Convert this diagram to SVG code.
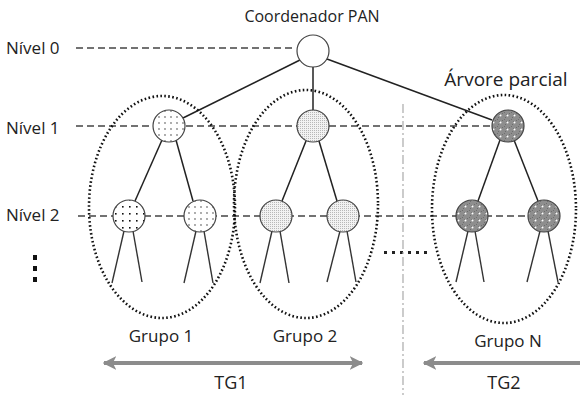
<svg xmlns="http://www.w3.org/2000/svg" width="580" height="395" viewBox="0 0 580 395">
  <style>
    .lbl { font-family: "Open Sans", "Liberation Sans", sans-serif; font-size: 15px; fill: #222; }
    .top { font-size: 16px; }
    .lvl-t { font-size: 17px; }
    .big { font-size: 18px; }
    .title2 { font-size: 19px; }
    .lvl { fill: none; stroke: #444; stroke-width: 1.4; stroke-dasharray: 7 4; }
    .edge { stroke: #222; stroke-width: 1.5; fill: none; }
    .leaf { stroke: #333; stroke-width: 1.4; fill: none; }
    .grp { fill: none; stroke: #111; stroke-width: 2.6; stroke-dasharray: 1.6 2.4; }
    .node { stroke: #444; stroke-width: 1.2; }
    .span { stroke: #8c8c8c; stroke-width: 4; fill: none; }
  </style>
  <defs>
    <!-- light grey dots on white -->
    <pattern id="pLight" width="6" height="6" patternUnits="userSpaceOnUse">
      <rect width="6" height="6" fill="#fff"/>
      <circle cx="3" cy="3" r="0.9" fill="#888"/>
    </pattern>
    <!-- black dots on white -->
    <pattern id="pBlack" width="7" height="7" patternUnits="userSpaceOnUse">
      <rect width="7" height="7" fill="#fff"/>
      <rect x="3" y="3" width="1.6" height="1.6" fill="#111"/>
    </pattern>
    <!-- fine grey stipple -->
    <pattern id="pStipple" width="2" height="2" patternUnits="userSpaceOnUse">
      <rect width="2" height="2" fill="#f2f2f2"/>
      <rect width="1" height="1" fill="#b8b8b8"/>
    </pattern>
    <!-- dark grey with white dots -->
    <pattern id="pDark" width="7" height="7" patternUnits="userSpaceOnUse">
      <rect width="7" height="7" fill="#8e8e8e"/>
      <rect x="0" y="0" width="1" height="1" fill="#6e6e6e"/>
      <rect x="2" y="2" width="1" height="1" fill="#6e6e6e"/>
      <rect x="5" y="1" width="1" height="1" fill="#6e6e6e"/>
      <rect x="1" y="5" width="1" height="1" fill="#6e6e6e"/>
      <circle cx="3.5" cy="3.5" r="1" fill="#fff"/>
    </pattern>
    <marker id="arrow" viewBox="0 0 10 10" refX="9" refY="5" markerWidth="3.4" markerHeight="3.4" orient="auto-start-reverse" markerUnits="strokeWidth">
      <path d="M0,0 L10,5 L0,10 L2.5,5 Z" fill="#8c8c8c"/>
    </marker>
  </defs>

  <!-- level labels -->
  <text class="lbl lvl-t" x="6" y="54">Nível 0</text>
  <text class="lbl lvl-t" x="6" y="134">Nível 1</text>
  <text class="lbl lvl-t" x="6" y="221">Nível 2</text>
  <text class="lbl top" x="312" y="22" text-anchor="middle">Coordenador PAN</text>
  <text class="lbl title2" x="506" y="86" text-anchor="middle">Árvore parcial</text>

  <!-- continuation marks -->
  <g id="more-levels" fill="#111">
    <rect x="33" y="255" width="4" height="5"/>
    <rect x="33" y="266" width="4" height="5"/>
    <rect x="33" y="277" width="4" height="5"/>
  </g>
  <g id="more-groups" fill="#222">
    <rect x="384" y="251" width="3" height="3"/>
    <rect x="392" y="251" width="3" height="3"/>
    <rect x="400" y="251" width="3" height="3"/>
    <rect x="408" y="251" width="3" height="3"/>
    <rect x="416" y="251" width="3" height="3"/>
    <rect x="424" y="251" width="3" height="3"/>
  </g>

  <!-- separator between group sets -->
  <line x1="403" y1="104" x2="403" y2="395" stroke="#aaa" stroke-width="1.2" stroke-dasharray="9 3 2 3"/>

  <g id="connectors">
    <!-- level guides -->
    <line class="lvl" x1="76" y1="48" x2="296" y2="48"/>
    <line class="lvl" x1="76" y1="126" x2="492" y2="126"/>
    <line class="lvl" x1="78" y1="216" x2="530" y2="216"/>
    <!-- root to level 1 -->
    <line class="edge" x1="300" y1="60" x2="183" y2="118"/>
    <line class="edge" x1="313" y1="67" x2="313" y2="110"/>
    <line class="edge" x1="327" y1="59" x2="492" y2="120"/>
    <!-- level 1 to level 2 -->
    <line class="edge" x1="162" y1="140" x2="135" y2="201"/>
    <line class="edge" x1="176" y1="140" x2="193" y2="201"/>
    <line class="edge" x1="306" y1="141" x2="282" y2="201"/>
    <line class="edge" x1="319" y1="141" x2="337" y2="201"/>
    <line class="edge" x1="500" y1="140" x2="478" y2="201"/>
    <line class="edge" x1="514" y1="140" x2="538" y2="201"/>
    <!-- level 2 downward links -->
    <line class="leaf" x1="124" y1="231" x2="112" y2="283"/>
    <line class="leaf" x1="133" y1="231" x2="142" y2="282"/>
    <line class="leaf" x1="196" y1="231" x2="184" y2="283"/>
    <line class="leaf" x1="204" y1="231" x2="213" y2="283"/>
    <line class="leaf" x1="272" y1="231" x2="260" y2="283"/>
    <line class="leaf" x1="280" y1="231" x2="289" y2="283"/>
    <line class="leaf" x1="340" y1="231" x2="327" y2="282"/>
    <line class="leaf" x1="347" y1="231" x2="356" y2="282"/>
    <line class="leaf" x1="468" y1="231" x2="456" y2="282"/>
    <line class="leaf" x1="475" y1="231" x2="484" y2="282"/>
    <line class="leaf" x1="540" y1="231" x2="527" y2="282"/>
    <line class="leaf" x1="548" y1="231" x2="558" y2="282"/>
    <!-- span arrows -->
    <line class="span" x1="104" y1="363" x2="362" y2="363" marker-start="url(#arrow)" marker-end="url(#arrow)"/>
    <line class="span" x1="424" y1="363" x2="590" y2="363" marker-start="url(#arrow)"/>
  </g>

  <!-- group outlines -->
  <g id="group-1"><ellipse class="grp" cx="162" cy="207" rx="73" ry="111"/></g>
  <g id="group-2"><ellipse class="grp" cx="306" cy="204" rx="72" ry="114"/></g>
  <g id="group-n"><ellipse class="grp" cx="504" cy="209" rx="72" ry="114"/></g>

  <!-- nodes -->
  <g id="root"><circle class="node" cx="313" cy="51" r="16" fill="#fff" stroke="#222" stroke-width="1.5"/></g>
  <g id="g1-l1"><circle class="node" cx="169" cy="126" r="16" fill="url(#pLight)"/></g>
  <g id="g1-l2a"><circle class="node" cx="129" cy="216" r="16" fill="url(#pBlack)"/></g>
  <g id="g1-l2b"><circle class="node" cx="200" cy="216" r="16" fill="url(#pLight)"/></g>
  <g id="g2-l1"><circle class="node" cx="313" cy="126" r="16" fill="url(#pStipple)"/></g>
  <g id="g2-l2a"><circle class="node" cx="276" cy="216" r="16" fill="url(#pStipple)"/></g>
  <g id="g2-l2b"><circle class="node" cx="343" cy="216" r="16" fill="url(#pStipple)"/></g>
  <g id="gn-l1"><circle class="node" cx="508" cy="126" r="16" fill="url(#pDark)"/></g>
  <g id="gn-l2a"><circle class="node" cx="472" cy="216" r="16" fill="url(#pDark)"/></g>
  <g id="gn-l2b"><circle class="node" cx="544" cy="216" r="16" fill="url(#pDark)"/></g>

  <!-- group and span labels -->
  <text class="lbl lvl-t" x="161" y="342" text-anchor="middle">Grupo 1</text>
  <text class="lbl lvl-t" x="305" y="342" text-anchor="middle">Grupo 2</text>
  <text class="lbl lvl-t" x="508" y="347" text-anchor="middle">Grupo N</text>
  <text class="lbl big" x="231" y="389" text-anchor="middle">TG1</text>
  <text class="lbl big" x="504" y="389" text-anchor="middle">TG2</text>
</svg>
